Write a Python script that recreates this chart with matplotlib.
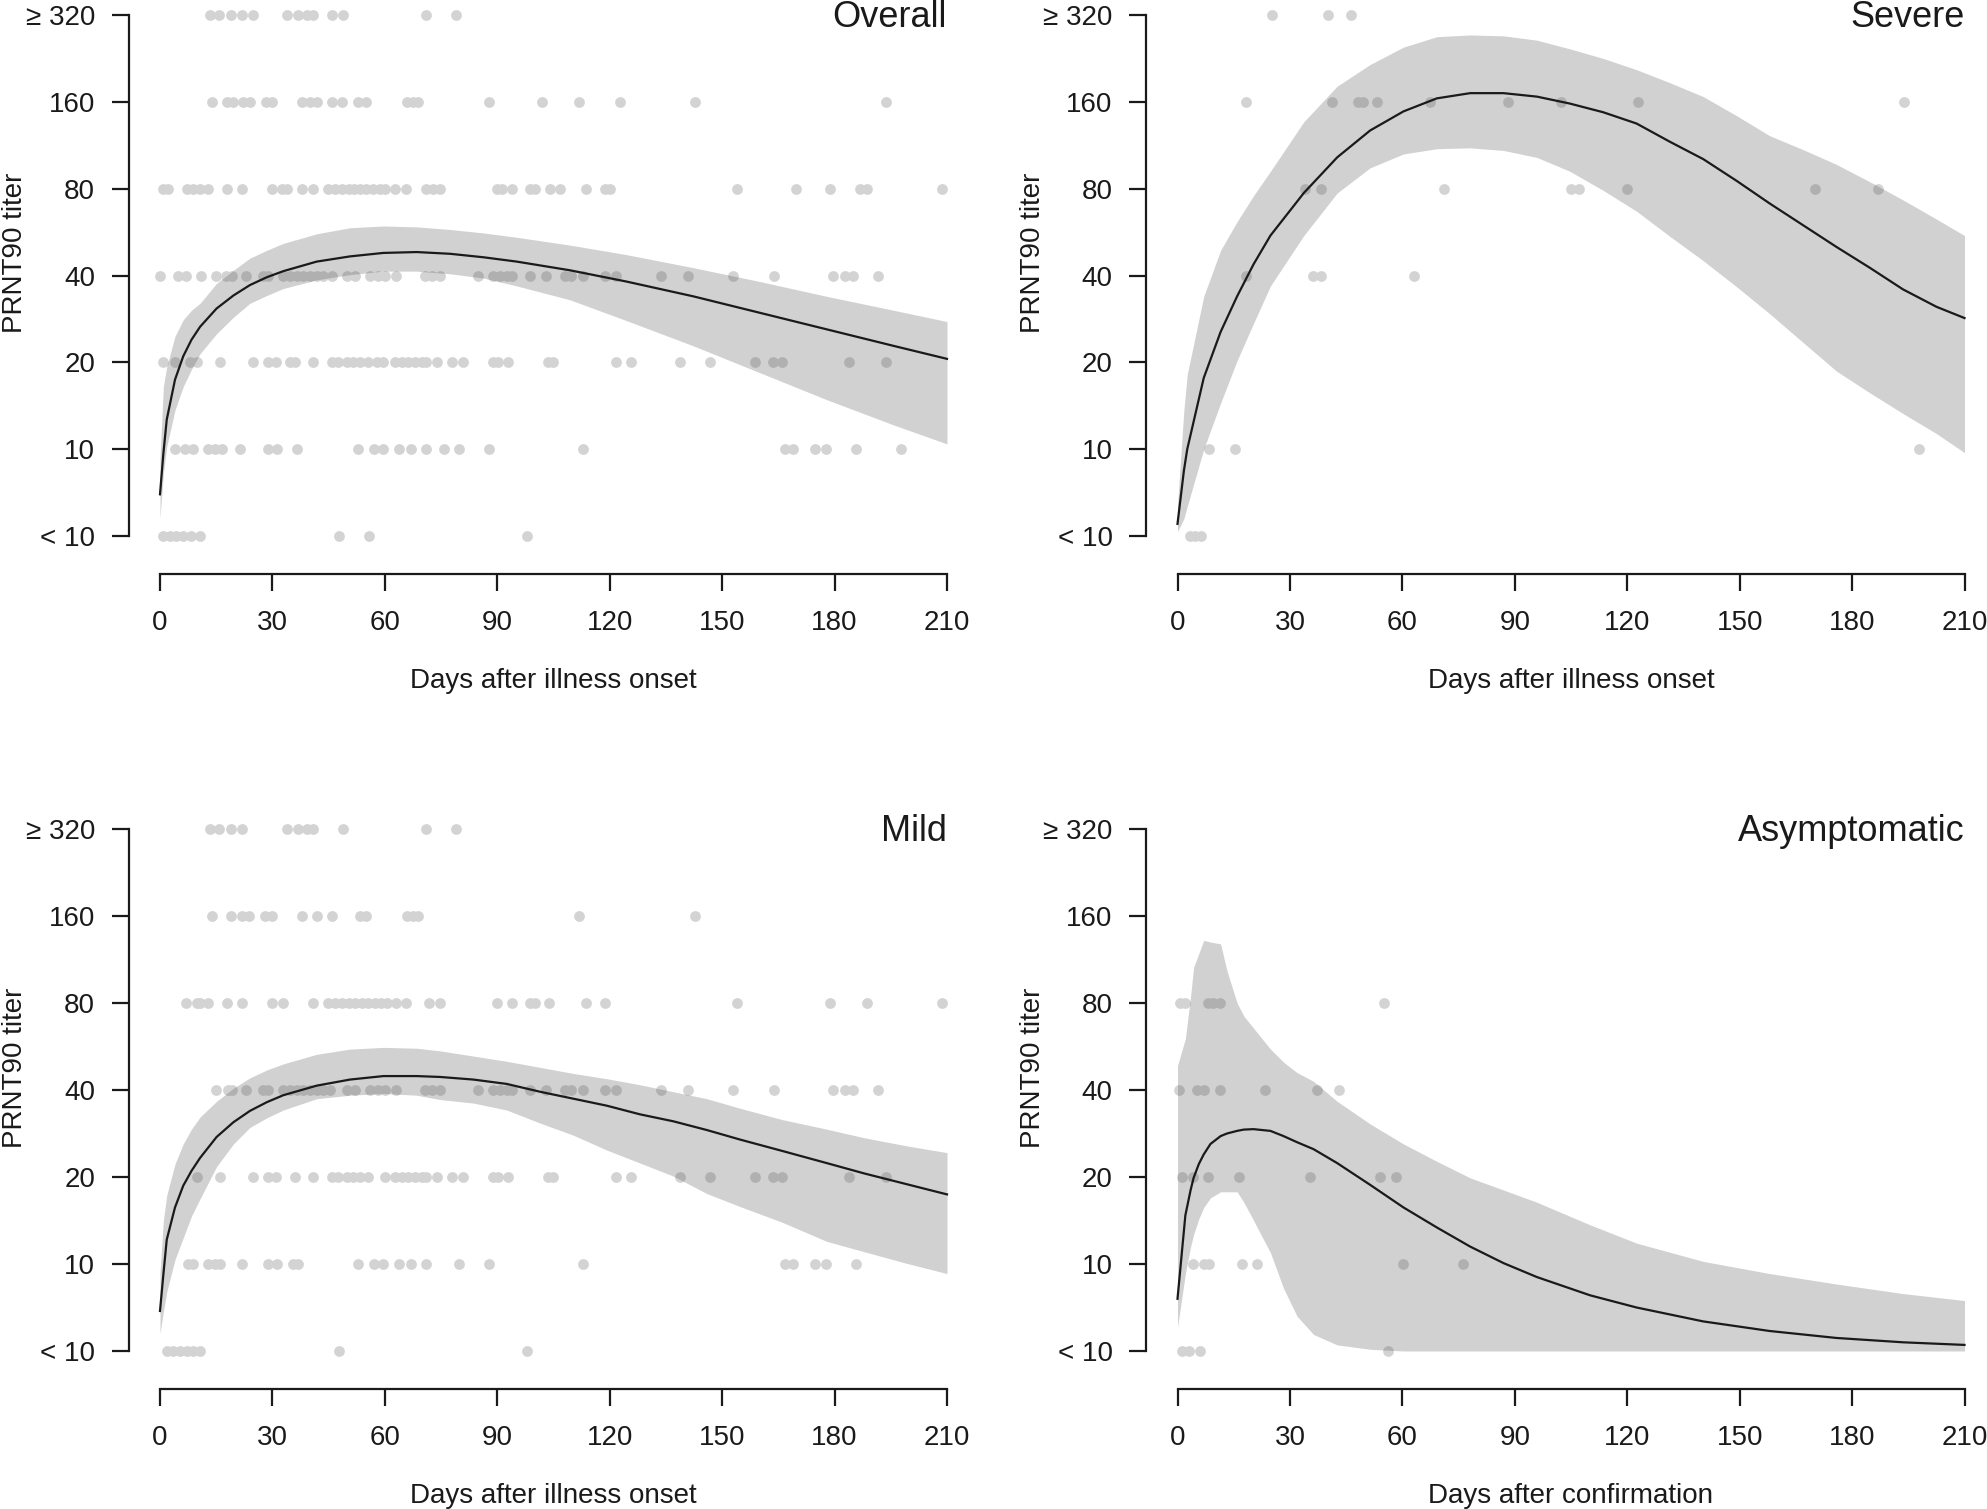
import matplotlib
matplotlib.use("Agg")
from matplotlib import pyplot as plt

plt.rcParams["font.family"] = ["Liberation Sans", "DejaVu Sans"]

W, H = 1987, 1509
levels = ["< 10", "10", "20", "40", "80", "160", "\u2265 320"]

# observed titers: days after onset, one list per titer level
o_lt10 = [0.9, 2.7, 4.4, 6.2, 8.4, 10.7, 47.8, 55.9, 97.8]
o_10 = [4.0, 6.7, 8.9, 12.9, 14.7, 16.5, 21.3, 28.9, 31.1, 36.5, 52.9, 57.1, 59.6, 63.9, 66.9,
        70.9, 75.8, 79.9, 87.9, 112.8, 166.8, 169.0, 174.8, 177.7, 185.7, 197.7]
o_20 = [0.9, 4.0, 8.0, 9.8, 16.0, 24.9, 28.9, 31.0, 34.7, 36.0, 40.9, 45.8, 47.6, 49.8, 51.6,
        53.4, 55.6, 57.8, 59.6, 62.7, 64.5, 66.3, 68.0, 69.8, 71.0, 73.8, 77.8, 80.9, 88.9, 90.3,
        92.9, 103.6, 104.9, 121.8, 125.8, 138.8, 146.8, 158.8, 163.6, 165.9, 183.8, 193.8]
o_40 = [0.0, 4.9, 7.0, 11.0, 15.0, 17.6, 19.1, 23.0, 27.6, 28.9, 32.9, 34.7, 36.5, 38.2, 40.0,
        41.8, 43.6, 45.8, 49.8, 52.0, 56.0, 58.3, 60.0, 63.0, 70.7, 72.5, 74.7, 84.9, 88.9, 90.7,
        92.5, 93.8, 98.7, 102.9, 108.0, 109.8, 112.8, 118.7, 121.8, 133.8, 140.8, 152.8, 163.8,
        179.6, 182.8, 184.8, 191.7]
o_80 = [0.7, 2.2, 7.1, 8.9, 10.7, 12.9, 17.8, 22.0, 29.8, 32.5, 33.8, 37.9, 40.9, 44.9, 46.7,
        48.5, 50.3, 51.8, 53.4, 55.1, 56.9, 58.7, 60.0, 62.7, 65.6, 71.1, 72.9, 74.7, 89.8, 91.2,
        93.8, 98.7, 100.1, 104.1, 106.7, 113.8, 118.7, 120.1, 153.9, 169.8, 178.8, 186.8, 188.7, 208.7]
o_160 = [13.9, 17.8, 19.4, 22.1, 24.0, 28.3, 29.8, 37.9, 40.0, 41.8, 45.8, 48.5, 52.9, 55.0,
         65.8, 67.6, 68.9, 87.9, 101.8, 111.9, 122.8, 142.8, 193.8]
o_320 = [13.3, 15.8, 18.9, 22.0, 24.9, 34.0, 36.9, 39.1, 40.7, 46.0, 48.7, 70.9, 78.9]

s_lt10 = [3.3, 4.8, 6.3]
s_10 = [8.3, 15.3, 197.8]
s_20 = []
s_40 = [18.3, 36.2, 38.3, 63.2]
s_80 = [34.1, 38.3, 71.2, 105.0, 107.1, 120.0, 170.0, 186.9]
s_160 = [18.3, 41.2, 48.1, 49.4, 53.2, 67.3, 88.1, 102.3, 123.0, 193.9]
s_320 = [25.2, 40.2, 46.2]

m_lt10 = [1.8, 3.6, 5.3, 7.1, 8.9, 10.7, 47.8, 97.8]
m_10 = [7.6, 8.9, 12.9, 14.7, 16.0, 22.0, 28.9, 31.1, 35.6, 36.9, 52.9, 57.1, 59.6, 63.9, 66.9,
        70.9, 79.9, 87.9, 112.8, 166.8, 169.0, 174.8, 177.7, 185.7]
m_20 = [9.8, 16.0, 24.9, 28.9, 31.0, 36.0, 40.9, 45.8, 47.6, 49.8, 51.6, 53.4, 55.6, 60.0, 62.7,
        64.5, 66.3, 68.0, 69.8, 71.0, 73.8, 77.8, 80.9, 88.9, 90.3, 92.9, 103.6, 104.9, 121.8,
        125.8, 138.8, 146.8, 158.8, 163.6, 165.9, 183.8, 193.8]
m_40 = [15.0, 18.2, 19.1, 23.0, 27.6, 28.9, 32.9, 34.7, 36.5, 38.2, 40.0, 41.8, 43.6, 45.4, 49.8,
        52.0, 56.0, 58.3, 60.0, 63.0, 70.7, 72.5, 74.7, 84.9, 88.9, 90.7, 92.5, 93.8, 98.7, 102.9,
        108.0, 109.8, 112.8, 118.7, 121.8, 133.8, 140.8, 152.8, 163.8, 179.6, 182.8, 184.8, 191.7]
m_80 = [6.9, 9.8, 10.7, 12.9, 17.8, 22.0, 29.8, 32.9, 40.9, 44.9, 46.7, 48.5, 50.3, 52.0, 53.8,
        55.6, 57.4, 59.1, 60.5, 63.0, 65.6, 71.9, 74.7, 89.8, 93.8, 98.7, 100.1, 103.8, 113.8,
        118.8, 153.9, 178.8, 188.7, 208.7]
m_160 = [13.9, 19.0, 21.8, 23.8, 28.0, 29.8, 37.9, 41.8, 45.8, 53.5, 55.0, 65.8, 67.6, 68.9,
         111.9, 142.8]
m_320 = [13.3, 15.8, 18.9, 22.0, 34.0, 36.9, 39.1, 40.9, 48.9, 70.9, 78.9]

a_lt10 = [1.2, 3.0, 6.1, 56.1]
a_10 = [4.2, 7.0, 8.5, 17.2, 21.2, 60.1, 76.1]
a_20 = [1.2, 4.2, 8.2, 16.3, 35.3, 54.1, 58.2]
a_40 = [0.4, 5.1, 7.0, 11.3, 23.3, 37.2, 43.2]
a_80 = [0.8, 2.1, 8.1, 9.5, 11.3, 55.2]
a_160 = []
a_320 = []

# fitted curves and 95% bands, in titer-level units (0 = <10 ... 6 = >=320)
ov_day = [0, 0.9, 1.8, 4.0, 6.2, 8.4, 10.7, 15.1, 19.6, 24.0, 28.5, 32.9, 41.8, 50.7, 59.6,
          68.5, 77.4, 86.3, 95.2, 109.4, 124.5, 142.3, 160.1, 177.9, 195.7, 210]
ov_fit = [0.48, 0.95, 1.34, 1.80, 2.07, 2.26, 2.41, 2.62, 2.77, 2.89, 2.98, 3.05, 3.16, 3.22,
          3.26, 3.27, 3.25, 3.21, 3.16, 3.06, 2.93, 2.76, 2.57, 2.38, 2.19, 2.04]
ov_lo = [0.20, 0.72, 1.03, 1.45, 1.72, 1.92, 2.10, 2.33, 2.52, 2.68, 2.77, 2.85, 2.95, 3.01,
         3.05, 3.05, 3.02, 2.97, 2.88, 2.72, 2.48, 2.19, 1.88, 1.57, 1.28, 1.06]
ov_hi = [0.90, 1.72, 1.95, 2.30, 2.49, 2.60, 2.68, 2.91, 3.06, 3.20, 3.29, 3.37, 3.48, 3.55,
         3.57, 3.56, 3.53, 3.49, 3.44, 3.35, 3.24, 3.09, 2.93, 2.76, 2.60, 2.47]

mi_day = [0, 0.9, 1.8, 4.0, 6.2, 8.4, 10.7, 15.1, 19.6, 24.0, 28.5, 32.9, 41.8, 50.7, 59.6,
          68.5, 74.7, 83.6, 92.5, 101.4, 110.3, 119.2, 128.1, 137.0, 145.9, 154.8, 166.0,
          177.9, 188.0, 199.0, 210]
mi_fit = [0.46, 0.88, 1.28, 1.65, 1.90, 2.07, 2.22, 2.46, 2.63, 2.76, 2.86, 2.94, 3.05, 3.12,
          3.16, 3.16, 3.15, 3.12, 3.07, 2.98, 2.90, 2.82, 2.72, 2.64, 2.54, 2.43, 2.30, 2.16,
          2.04, 1.92, 1.80]
mi_lo = [0.20, 0.45, 0.68, 1.05, 1.30, 1.55, 1.75, 2.12, 2.38, 2.57, 2.68, 2.77, 2.90, 2.94,
         2.96, 2.94, 2.89, 2.85, 2.77, 2.62, 2.48, 2.31, 2.16, 2.01, 1.81, 1.66, 1.48, 1.26,
         1.14, 1.01, 0.89]
mi_hi = [0.90, 1.50, 1.79, 2.15, 2.38, 2.55, 2.69, 2.87, 3.02, 3.14, 3.23, 3.30, 3.41, 3.47,
         3.49, 3.48, 3.45, 3.39, 3.33, 3.26, 3.19, 3.13, 3.06, 2.98, 2.90, 2.79, 2.66, 2.55,
         2.45, 2.36, 2.28]

se_day = [0, 1.7, 2.6, 7.0, 11.5, 15.9, 20.3, 24.8, 33.7, 42.6, 51.4, 60.3, 69.2, 78.1, 87.0,
          95.9, 104.7, 113.6, 122.5, 131.4, 140.3, 149.2, 158.0, 166.9, 175.8, 184.7, 193.6,
          202.5, 210]
se_fit = [0.14, 0.75, 1.00, 1.82, 2.35, 2.76, 3.13, 3.46, 3.95, 4.36, 4.67, 4.89, 5.04, 5.10,
          5.10, 5.06, 4.98, 4.88, 4.75, 4.54, 4.34, 4.09, 3.83, 3.58, 3.33, 3.09, 2.84, 2.64, 2.51]
se_lo = [0.05, 0.20, 0.34, 1.00, 1.53, 2.02, 2.45, 2.88, 3.46, 3.95, 4.24, 4.40, 4.46, 4.47,
         4.44, 4.36, 4.20, 3.98, 3.74, 3.45, 3.17, 2.87, 2.56, 2.23, 1.90, 1.65, 1.41, 1.18, 0.96]
se_hi = [0.35, 1.45, 1.86, 2.76, 3.29, 3.62, 3.92, 4.20, 4.77, 5.18, 5.43, 5.63, 5.75, 5.77,
         5.76, 5.71, 5.61, 5.50, 5.37, 5.22, 5.06, 4.84, 4.61, 4.45, 4.28, 4.08, 3.87, 3.65, 3.46]

as_day = [0, 2.1, 3.5, 4.3, 5.7, 7.0, 8.8, 11.5, 13.2, 15.9, 17.7, 20.3, 24.8, 28.3, 31.9, 36.3,
          42.6, 51.4, 60.3, 69.2, 78.1, 87.0, 95.9, 110.1, 122.5, 140.3, 158.0, 175.8, 193.6, 210]
as_fit = [0.60, 1.56, 1.85, 1.99, 2.15, 2.26, 2.38, 2.47, 2.50, 2.53, 2.545, 2.55, 2.53, 2.47,
          2.40, 2.32, 2.16, 1.91, 1.65, 1.42, 1.20, 1.01, 0.85, 0.64, 0.50, 0.34, 0.23, 0.15,
          0.10, 0.07]
as_lo = [0.27, 0.89, 1.20, 1.34, 1.52, 1.65, 1.76, 1.83, 1.83, 1.83, 1.71, 1.50, 1.13, 0.72,
         0.40, 0.19, 0.07, 0.02, 0, 0, 0, 0, 0, 0, 0, 0, 0, 0, 0, 0]
as_hi = [3.28, 3.59, 4.08, 4.41, 4.57, 4.72, 4.70, 4.68, 4.37, 4.00, 3.85, 3.71, 3.47, 3.32,
         3.20, 3.10, 2.87, 2.61, 2.38, 2.18, 1.99, 1.85, 1.71, 1.45, 1.24, 1.03, 0.89, 0.77,
         0.66, 0.58]

panels = [
    ("Overall", "Days after illness onset", 160, 536, 15,
     [o_lt10, o_10, o_20, o_40, o_80, o_160, o_320], ov_day, ov_fit, ov_lo, ov_hi),
    ("Severe", "Days after illness onset", 1177.5, 536, 15,
     [s_lt10, s_10, s_20, s_40, s_80, s_160, s_320], se_day, se_fit, se_lo, se_hi),
    ("Mild", "Days after illness onset", 160, 1351, 829,
     [m_lt10, m_10, m_20, m_40, m_80, m_160, m_320], mi_day, mi_fit, mi_lo, mi_hi),
    ("Asymptomatic", "Days after confirmation", 1177.5, 1351, 829,
     [a_lt10, a_10, a_20, a_40, a_80, a_160, a_320], as_day, as_fit, as_lo, as_hi),
]

fig = plt.figure(figsize=(W / 100, H / 100), dpi=100)

for title, xlab, x0, y0, y6, rows, day, fit, lo, hi in panels:
    ppd = 787 / 210
    ppu = (y0 - y6) / 6
    left = x0 - 8.4 * ppd
    right = x0 + 218.4 * ppd
    bottom = y0 + 0.44 * ppu
    top = y6 - 0.15 * ppu
    ax = fig.add_axes([left / W, 1 - bottom / H, (right - left) / W, (bottom - top) / H])
    ax.set_xlim(-8.4, 218.4)
    ax.set_ylim(-0.44, 6.15)
    ax.patch.set_alpha(0)

    for lvl, days in enumerate(rows):
        if days:
            ax.scatter(days, [lvl] * len(days), s=60, color="#d3d3d3", linewidths=0,
                       zorder=1, clip_on=False)
    ax.fill_between(day, lo, hi, color="#48494d", alpha=0.25, linewidth=0, zorder=2)
    ax.plot(day, fit, color="#1a1a1a", lw=1.6, zorder=3, solid_joinstyle="round")

    for side in ["top", "right"]:
        ax.spines[side].set_visible(False)
    ax.spines["left"].set_bounds(0, 6)
    ax.spines["bottom"].set_bounds(0, 210)
    for side in ["left", "bottom"]:
        ax.spines[side].set_linewidth(1.6)
        ax.spines[side].set_color("#1a1a1a")
    ax.set_xticks(range(0, 211, 30))
    ax.set_yticks(range(7))
    ax.set_yticklabels(levels)
    ax.tick_params(axis="both", length=12, width=1.6, color="#1a1a1a", labelsize=20,
                   labelcolor="#1a1a1a")
    ax.tick_params(axis="y", pad=12)
    ax.tick_params(axis="x", pad=14)

    ax.text(210, 6 - 0.14, title, ha="right", va="baseline", fontsize=26, color="#1a1a1a")
    fig.text((x0 + 105 * ppd) / W, 1 - (y0 + 145) / H, xlab, ha="center", va="center",
             fontsize=20, color="#1a1a1a")
    fig.text((x0 - 145) / W, 1 - (y6 + 0.457 * (y0 - y6)) / H, "PRNT90 titer", rotation=90,
             ha="center", va="center", fontsize=20, color="#1a1a1a")

fig.savefig("out.png", dpi=100)
